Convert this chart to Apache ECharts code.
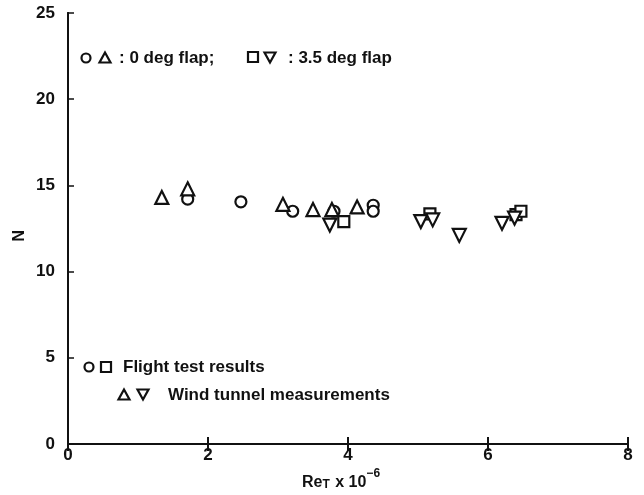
<!DOCTYPE html>
<html>
<head>
<meta charset="utf-8">
<script src="https://cdn.jsdelivr.net/npm/echarts@6/dist/echarts.min.js"></script>
<style>html,body{margin:0;padding:0;background:#fff}#c{width:644px;height:495px}</style>
</head>
<body>
<div id="c"></div>
<script>
// Flight test, 0 deg flap (circles)
const flight0 = [[1.71, 14.2], [2.47, 14.05], [3.21, 13.5], [3.8, 13.5], [4.36, 13.85], [4.36, 13.5]];
// Wind tunnel, 0 deg flap (triangles)
const wind0 = [[1.34, 14.3], [1.71, 14.8], [3.07, 13.9], [3.5, 13.6], [3.77, 13.6], [4.13, 13.75]];
// Flight test, 3.5 deg flap (squares)
const flight35 = [[3.94, 12.9], [5.17, 13.35], [6.4, 13.3], [6.47, 13.5]];
// Wind tunnel, 3.5 deg flap (inverted triangles)
const wind35 = [[3.74, 12.7], [5.04, 12.9], [5.21, 13.0], [5.59, 12.1], [6.2, 12.8], [6.38, 13.1]];
const xTicks = [0, 2, 4, 6, 8];
const yTicks = [0, 5, 10, 15, 20, 25];

const chart = echarts.init(document.getElementById('c'), null, {renderer: 'canvas'});
const FONT = '"Liberation Sans", Arial, sans-serif';
const INK = '#111';
const axisLine = {show: true, lineStyle: {color: INK, width: 2}};
const mk = (name, data, symbol, rot) => ({
  name, type: 'scatter', data, symbol, symbolSize: symbol === 'circle' ? 11 : (symbol === 'rect' ? 11 : 13),
  symbolRotate: rot || 0,
  itemStyle: {color: '#fff', borderColor: INK, borderWidth: 2.2, opacity: 1},
  z: 5
});
const sStyle = {fill: 'none', stroke: INK, lineWidth: 2.2};
const circ = (x, y) => ({type: 'circle', shape: {cx: x, cy: y, r: 4.5}, style: sStyle});
const tri = (x, y) => ({type: 'polygon', shape: {points: [[x, y - 5.5], [x + 5.5, y + 4.5], [x - 5.5, y + 4.5]]}, style: sStyle});
const itri = (x, y) => ({type: 'polygon', shape: {points: [[x, y + 5.5], [x + 5.5, y - 4.5], [x - 5.5, y - 4.5]]}, style: sStyle});
const sq = (x, y) => ({type: 'rect', shape: {x: x - 5, y: y - 5, width: 10, height: 10}, style: sStyle});
const txt = (x, y, t) => ({type: 'text', x: x, y: y, style: {text: t, fill: INK, font: 'bold 17px ' + FONT, textVerticalAlign: 'middle'}});

chart.setOption({
  animation: false,
  backgroundColor: '#fff',
  grid: {left: 68, right: 16, top: 13, bottom: 51, containLabel: false},
  xAxis: [
    {type: 'value', min: 0, max: 8, interval: 2, position: 'bottom',
     axisLine, axisTick: {show: true, inside: true, length: 7, lineStyle: {color: INK, width: 2}},
     splitLine: {show: false},
     axisLabel: {color: INK, fontFamily: FONT, fontSize: 17, fontWeight: 'bold', margin: 3,
       formatter: v => xTicks.includes(v) ? String(v) : ''}},
    {type: 'value', min: 0, max: 8, interval: 2, position: 'top',
     axisLine, axisTick: {show: true, inside: true, length: 7, lineStyle: {color: INK, width: 2}},
     splitLine: {show: false}, axisLabel: {show: false}}
  ],
  yAxis: [
    {type: 'value', min: 0, max: 25, interval: 5, position: 'left',
     axisLine, axisTick: {show: true, inside: true, length: 6, lineStyle: {color: INK, width: 1.5}},
     splitLine: {show: false},
     axisLabel: {color: INK, fontFamily: FONT, fontSize: 17, fontWeight: 'bold', margin: 13,
       formatter: v => yTicks.includes(v) ? String(v) : ''}},
    {type: 'value', min: 0, max: 25, interval: 5, position: 'right',
     axisLine, axisTick: {show: false}, splitLine: {show: false}, axisLabel: {show: false}}
  ],
  series: [
    mk('flight0', flight0, 'circle'),
    mk('wind0', wind0, 'triangle'),
    mk('flight35', flight35, 'rect'),
    mk('wind35', wind35, 'triangle', 180)
  ],
  graphic: [
    {type: 'text', x: 24, y: 230, rotation: -Math.PI / 2,
     style: {text: 'N', fill: INK, font: 'bold 16px ' + FONT}},
    {type: 'text', x: 302, y: 468,
     style: {text: '{a|Re}{s|T}{a| x 10}{p|−6}', fill: INK,
       rich: {a: {fontFamily: FONT, fontSize: 16, fontWeight: 'bold', fill: INK, verticalAlign: 'bottom'},
              s: {fontFamily: FONT, fontSize: 12, fontWeight: 'bold', fill: INK, padding: [6, 1, 0, 0], verticalAlign: 'bottom'},
              p: {fontFamily: FONT, fontSize: 12, fontWeight: 'bold', fill: INK, padding: [0, 0, 11, 0]}}}},
    circ(86, 58), tri(105, 58), txt(119, 58, ': 0 deg flap;'),
    sq(253, 57), itri(270, 57), txt(288, 58, ': 3.5 deg flap'),
    circ(89, 367), sq(106, 367), txt(123, 367, 'Flight test results'),
    tri(124, 395), itri(143, 394), txt(168, 395, 'Wind tunnel measurements')
  ]
});
</script>
</body>
</html>
